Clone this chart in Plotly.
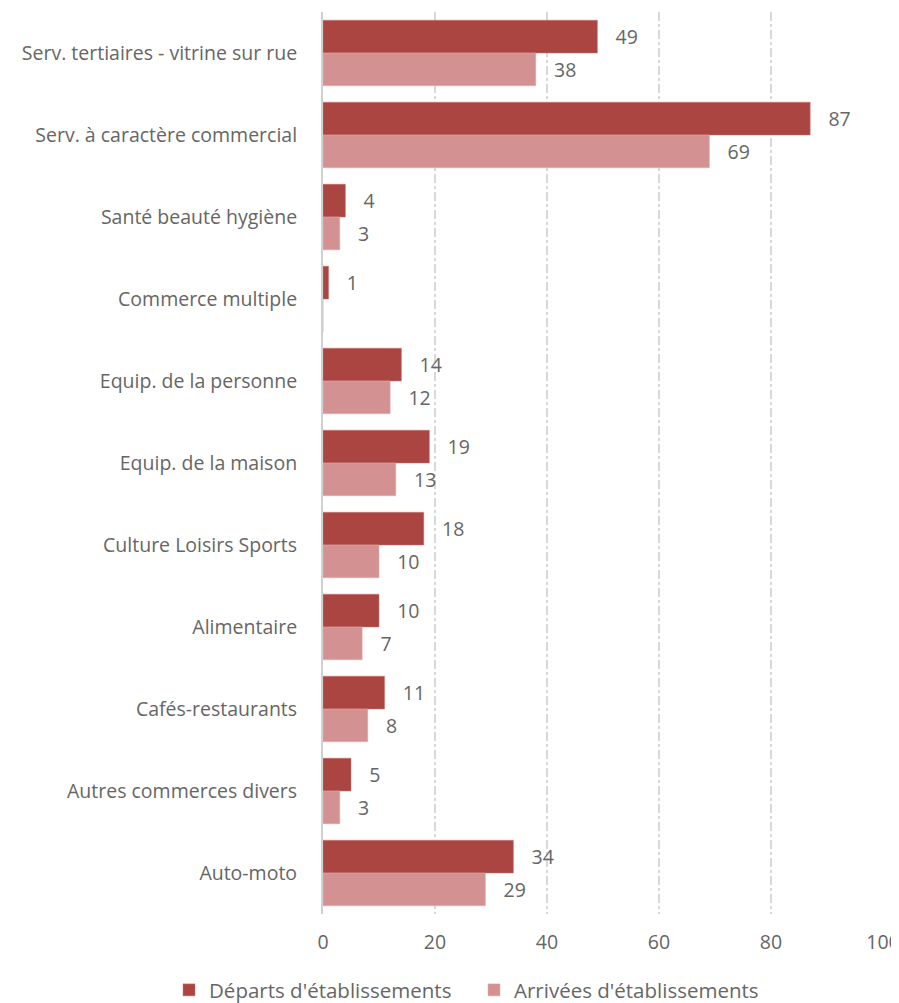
import plotly.graph_objects as go

categories = ["Serv. tertiaires - vitrine sur rue", "Serv. à caractère commercial", "Santé beauté hygiène",
              "Commerce multiple", "Equip. de la personne", "Equip. de la maison", "Culture Loisirs Sports",
              "Alimentaire", "Cafés-restaurants", "Autres commerces divers", "Auto-moto"]
departs = [49, 87, 4, 1, 14, 19, 18, 10, 11, 5, 34]
arrivees = [38, 69, 3, 0, 12, 13, 10, 7, 8, 3, 29]
x_ticks = [0, 20, 40, 60, 80, 100]

FONT = "Open Sans"
GRAY = "#666666"

def labels(vals):
    return ["   " + str(v) if v else "" for v in vals]

fig = go.Figure()
fig.add_trace(go.Bar(y=categories, x=departs, orientation="h", name="Départs d'établissements",
                     marker=dict(color="#AB4542", line=dict(color="#C87A78", width=0.5)),
                     text=labels(departs), textposition="outside", cliponaxis=False,
                     textfont=dict(size=19.5, color=GRAY, family=FONT)))
fig.add_trace(go.Bar(y=categories, x=arrivees, orientation="h", name="Arrivées d'établissements",
                     marker=dict(color="#D49191", line=dict(color="#E0AEAE", width=0.5)),
                     text=labels(arrivees), textposition="outside", cliponaxis=False,
                     textfont=dict(size=19.5, color=GRAY, family=FONT)))

fig.update_layout(
    width=899, height=1003,
    margin=dict(l=315, r=24, t=4, b=97, autoexpand=False),
    barmode="group", bargap=0.2, bargroupgap=0,
    plot_bgcolor="white", paper_bgcolor="white",
    font=dict(family=FONT, size=19.5, color=GRAY),
    showlegend=True,
    legend=dict(orientation="h", xref="paper", x=-0.275, xanchor="left",
                yref="paper", y=-0.0843, yanchor="middle",
                entrywidth=260, entrywidthmode="pixels",
                font=dict(size=20.5, color=GRAY), traceorder="normal", itemwidth=30),
    xaxis=dict(range=[0, 100], tickvals=x_ticks, showgrid=True, gridcolor="#D9D9D9",
               griddash="dashdot", gridwidth=1.5, zeroline=False, showline=False, automargin=False,
               ticks="", ticklabelstandoff=14, tickfont=dict(size=19.5, color=GRAY)),
    yaxis=dict(autorange="reversed", showline=True, linecolor="#D0D0D0", linewidth=2, automargin=False,
               ticks="", ticklabelstandoff=20, tickfont=dict(size=19.5, color=GRAY)),
)
fig.write_html("out.html")
